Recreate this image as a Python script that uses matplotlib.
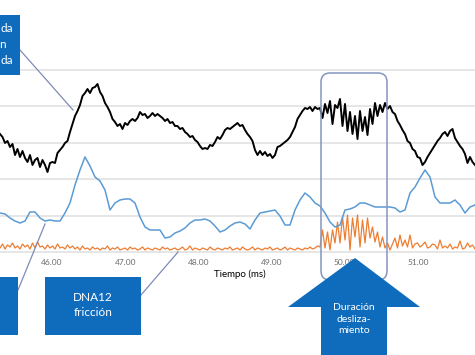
import numpy as np
import matplotlib
matplotlib.use("Agg")
import matplotlib.pyplot as plt
from matplotlib.patches import Rectangle, FancyBboxPatch, Polygon

plt.rcParams['font.family'] = ['Lato', 'DejaVu Sans']

# ---------------- data (time in ms, amplitudes in arbitrary units) ----------------
t_start, t_end = 45.29, 51.78

black_signal = [
    118, 115, 109, 111, 105, 108, 97, 103, 95, 101,
    94, 90, 97, 87, 92, 94, 85, 92, 87, 80,
    89, 90, 89, 99, 102, 105, 109, 111, 120, 128,
    136, 141, 147, 156, 159, 163, 159, 164, 165, 168,
    160, 156, 149, 145, 140, 133, 130, 126, 128, 123,
    129, 127, 131, 133, 131, 134, 140, 137, 138, 134,
    136, 139, 136, 138, 136, 134, 131, 133, 129, 130,
    126, 126, 123, 124, 120, 118, 115, 116, 112, 110,
    106, 103, 104, 103, 107, 106, 110, 115, 113, 117,
    122, 124, 123, 125, 127, 129, 126, 127, 122, 118,
    115, 111, 102, 97, 101, 97, 100, 96, 98, 94,
    97, 105, 106, 108, 110, 112, 115, 120, 125, 133,
    137, 141, 144, 143, 145, 141, 145, 143, 144, 134,
    148, 139, 151, 128, 147, 144, 153, 126, 148, 121,
    140, 118, 136, 113, 141, 121, 135, 117, 143, 128,
    149, 136, 147, 140, 149, 143, 146, 140, 138, 131,
    127, 122, 118, 111, 109, 103, 101, 95, 94, 87,
    90, 95, 99, 103, 107, 111, 114, 118, 120, 116,
    121, 123, 114, 110, 106, 103, 98, 89, 95, 90,
    87,
]

blue_signal = [
    39, 38, 34, 31, 29, 31, 40, 40, 34, 31,
    32, 31, 31, 39, 49, 67, 82, 95, 86, 75,
    71, 62, 42, 49, 52, 53, 53, 49, 35, 25,
    22, 22, 22, 14, 15, 19, 21, 24, 29, 32,
    32, 33, 31, 26, 20, 22, 26, 29, 30, 28,
    23, 32, 39, 40, 41, 42, 36, 27, 27, 42,
    52, 59, 55, 49, 46, 39, 30, 25, 27, 42,
    43, 45, 49, 49, 47, 45, 45, 45, 45, 44,
    40, 42, 59, 65, 74, 82, 75, 55, 49, 49,
    49, 52, 47, 39, 45, 47,
]

orange_signal = [
    4, 8, 3, 7, 5, 9, 4, 6, 3, 8,
    5, 7, 3, 9, 4, 10, 5, 6, 3, 7,
    4, 6, 3, 8, 4, 5, 3, 7, 4, 6,
    3, 5, 2, 6, 3, 4, 2, 5, 3, 4,
    2, 4, 3, 6, 2, 4, 3, 5, 2, 3,
    4, 2, 5, 3, 4, 2, 3, 5, 2, 4,
    3, 2, 4, 3, 2, 5, 3, 4, 2, 3,
    4, 2, 3, 5, 2, 3, 6, 2, 4, 3,
    2, 4, 3, 2, 5, 3, 2, 4, 3, 2,
    4, 3, 5, 2, 3, 4, 2, 5, 3, 2,
    3, 5, 2, 4, 3, 2, 4, 3, 5, 2,
    3, 4, 2, 3, 5, 2, 4, 3, 2, 4,
    3, 2, 4, 3, 5, 3, 4, 6, 5, 22,
    4, 20, 2, 22, 9, 30, 9, 35, 12, 37,
    2, 34, 15, 37, 5, 32, 9, 34, 14, 25,
    10, 20, 5, 15, 4, 9, 2, 8, 14, 4,
    17, 6, 12, 5, 17, 4, 8, 9, 5, 7,
    10, 4, 5, 8, 7, 3, 12, 4, 6, 4,
    8, 3, 5, 4, 11, 3, 4, 9, 5, 7,
    3,
]

x_ticks = [46, 47, 48, 49, 50, 51]
x_label = "Tiempo (ms)"
grid_levels = [0, 36.4, 72.8, 109.2, 145.6, 182]

t_black = np.linspace(t_start, t_end, len(black_signal))
t_blue = np.linspace(t_start, t_end, len(blue_signal))
t_orange = np.linspace(t_start, t_end, len(orange_signal))

# ---------------- figure ----------------
W, H = 475, 355
fig = plt.figure(figsize=(W / 100, H / 100), dpi=100)
ax = fig.add_axes([0, 0, 1, 1])
ax.set_xlim(t_start, t_end)
ax.set_ylim(-103, 252)

ax.set_yticks(grid_levels)
ax.yaxis.grid(True, color='#E1E1E1', lw=1.2)
ax.set_axisbelow(True)
ax.tick_params(axis='y', length=0, labelleft=False)

ax.set_xticks(x_ticks)
ax.set_xticklabels([f"{v:.2f}" for v in x_ticks])
ax.spines['bottom'].set_position(('data', 0))
ax.tick_params(axis='x', length=0, pad=5, labelsize=6, labelcolor='#6b6b6b')
for s in ax.spines.values():
    s.set_visible(False)

ax.plot(t_orange, orange_signal, color='#ED7D31', lw=0.9, zorder=3)
ax.plot(t_blue, blue_signal, color='#5B9BD5', lw=1.1, zorder=4)
ax.plot(t_black, black_signal, color='black', lw=1.4, zorder=5)

# ---------------- annotations (pixel layout -> inches) ----------------
tr = fig.dpi_scale_trans
def I(x, y):
    return (x / 100, (H - y) / 100)

BOX = '#0F6CBD'
LINK = '#7F8BB8'

ax.text(*I(240, 274), x_label, transform=tr, ha='center', va='center',
        fontsize=7, color='black')

# top-left box (cut off)
x0, y0 = I(-10, 75)
ax.add_patch(Rectangle((x0, y0), 0.30, 0.60, transform=tr, facecolor=BOX,
                       edgecolor='none', zorder=10, clip_on=False))
for txt, xr, yc in [("da", 13, 29), ("n", 6, 45), ("da", 13, 61)]:
    ax.text(*I(xr, yc), txt, transform=tr, ha='right', va='center',
            fontsize=8.5, color='white', zorder=11)
ax.plot(*zip(I(20, 50), I(73, 110)), transform=tr, color=LINK, lw=0.9, zorder=9)

# bottom-left box (cut off)
x0, y0 = I(-10, 335)
ax.add_patch(Rectangle((x0, y0), 0.28, 0.58, transform=tr, facecolor=BOX,
                       edgecolor='none', zorder=10, clip_on=False))
ax.plot(*zip(I(18, 290), I(45, 224)), transform=tr, color=LINK, lw=0.9, zorder=9)

# DNA12 friccion box
x0, y0 = I(45, 335)
ax.add_patch(Rectangle((x0, y0), 0.96, 0.58, transform=tr, facecolor=BOX,
                       edgecolor='none', zorder=10))
ax.text(*I(93, 305), "DNA12\nfricción", transform=tr, ha='center', va='center',
        fontsize=8.5, color='white', linespacing=1.35, zorder=11)
ax.plot(*zip(I(141, 295), I(178, 252)), transform=tr, color=LINK, lw=0.9, zorder=9)

# rounded rectangle marking the slip window
x0, y0 = I(321, 280)
ax.add_patch(FancyBboxPatch((x0, y0), 0.66, 2.07, transform=tr,
                            boxstyle="round,pad=0,rounding_size=0.09",
                            facecolor='none', edgecolor='#8595C0', lw=1.1, zorder=8))

# big up arrow
arrow_pts = [I(355, 258), I(420, 307), I(387, 307), I(387, 365),
             I(321, 365), I(321, 307), I(288, 307)]
ax.add_patch(Polygon(arrow_pts, closed=True, transform=tr, facecolor=BOX,
                     edgecolor='none', zorder=12, clip_on=False))
ax.text(*I(354, 319), "Duración\ndesliza-\nmiento", transform=tr, ha='center',
        va='center', fontsize=7.5, color='white', linespacing=1.3, zorder=13)

fig.savefig("out.png", dpi=100)
